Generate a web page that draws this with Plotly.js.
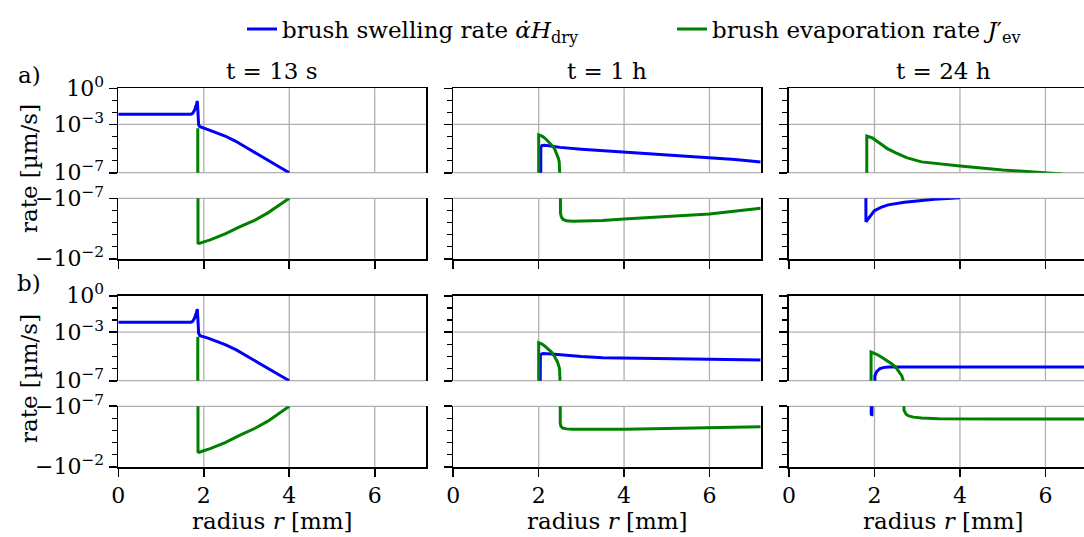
<!DOCTYPE html>
<html><head><meta charset="utf-8">
<script src="https://cdn.plot.ly/plotly-3.0.1.min.js"></script>
<style>html,body{margin:0;padding:0;background:#fff}</style>
</head><body><div id="chart" style="width:1084px;height:537px"></div>
<script>
// ---------------- data (radius in mm, signed rates in µm/s) ----------------
const columnTitles = ['t = 13 s', 't = 1 h', 't = 24 h'];
const rowLetters = ['a)', 'b)'];
const xTickVals = [0, 2, 4, 6];
const xTickText = ['0', '2', '4', '6'];
const posTickVals = [1, 1e-3, 1e-7];
const posTickText = ['10<sup>0</sup>', '10<sup>−3</sup>', '10<sup>−7</sup>'];
const posMinorVals = [1e-1, 1e-2, 1e-4, 1e-5, 1e-6];
const negTickVals = [1e-7, 1e-2];
const negTickText = ['−10<sup>−7</sup>', '−10<sup>−2</sup>'];
const negMinorVals = [1e-6, 1e-5, 1e-4, 1e-3];
const seriesNames = ['brush swelling rate <i>α̇H</i><sub>dry</sub>', 'brush evaporation rate <i>J</i>′<sub>ev</sub>'];
const seriesColors = ['#0000ff', '#008000'];

// row a, t = 13 s
const r_a13_swell = [0, 1.70, 1.74, 1.78, 1.82, 1.85, 1.88, 1.91, 2.10, 2.30, 2.50, 2.75, 3.00, 3.50, 4.00];
const v_a13_swell = [6.9e-3, 6.9e-3, 8.3e-3, 1.4e-2, 3.5e-2, 8.9e-2, 9.0e-4, 6.6e-4, 3.8e-4, 2.1e-4, 1.1e-4, 4.0e-5, 1.2e-5, 1.1e-6, 1.0e-7];
const r_a13_evap = [0, 1.86, 1.86, 1.865, 1.89, 2.15, 2.50, 2.85, 3.20, 3.50, 3.80, 4.00];
const v_a13_evap = [0, 0, 4.8e-4, -5.0e-4, -5.4e-4, -2.8e-4, -8.9e-5, -2.2e-5, -6.3e-6, -1.6e-6, -3.2e-7, -1.0e-7];
// row a, t = 1 h
const r_a1h_swell = [0, 2.04, 2.05, 2.08, 2.15, 2.30, 2.50, 3.00, 4.00, 5.00, 6.00, 6.60, 7.20];
const v_a1h_swell = [0, 0, 1.3e-5, 1.8e-5, 1.9e-5, 1.6e-5, 1.26e-5, 8.9e-6, 5.2e-6, 3.2e-6, 1.9e-6, 1.26e-6, 7.8e-7];
const r_a1h_evap = [0, 2.00, 2.00, 2.08, 2.15, 2.23, 2.30, 2.37, 2.42, 2.46, 2.48, 2.50, 2.51, 2.53, 2.57, 2.65, 2.80, 3.50, 4.00, 5.00, 6.00, 7.20];
const v_a1h_evap = [0, 0, 1.35e-4, 1.07e-4, 7.1e-5, 4.0e-5, 2.0e-5, 1.0e-5, 4.1e-6, 1.6e-6, 8.1e-7, 8.9e-8, -1.6e-6, -3.5e-6, -5.6e-6, -7.1e-6, -7.9e-6, -6.8e-6, -5.1e-6, -3.3e-6, -2.0e-6, -6.8e-7];
// row a, t = 24 h
const r_a24_swell = [0, 1.79, 1.80, 1.90, 2.00, 2.15, 2.32, 2.70, 3.00, 3.40, 3.80, 4.00];
const v_a24_swell = [0, 0, -8.7e-6, -2.8e-6, -1.05e-6, -5.6e-7, -3.5e-7, -2.1e-7, -1.6e-7, -1.2e-7, -1.0e-7, -8.9e-8];
const r_a24_evap = [0, 1.82, 1.82, 1.95, 2.10, 2.30, 2.50, 2.75, 3.10, 3.50, 4.00, 5.00, 6.00, 6.40];
const v_a24_evap = [0, 0, 1.1e-4, 7.6e-5, 3.2e-5, 1.0e-5, 4.5e-6, 1.8e-6, 7.9e-7, 5.4e-7, 3.6e-7, 1.7e-7, 1.0e-7, 7.9e-8];
// row b, t = 13 s
const r_b13_swell = [0, 1.70, 1.74, 1.78, 1.82, 1.85, 1.88, 1.91, 2.10, 2.30, 2.50, 2.75, 3.00, 3.50, 4.00];
const v_b13_swell = [6.5e-3, 6.5e-3, 7.8e-3, 1.3e-2, 3.2e-2, 7.9e-2, 8.0e-4, 5.1e-4, 3.2e-4, 1.8e-4, 9.5e-5, 3.6e-5, 1.1e-5, 1.0e-6, 1.0e-7];
const r_b13_evap = [0, 1.86, 1.86, 1.865, 1.89, 2.15, 2.50, 2.85, 3.20, 3.50, 3.80, 4.00];
const v_b13_evap = [0, 0, 4.2e-4, -5.6e-4, -6.4e-4, -3.2e-4, -1.0e-4, -2.4e-5, -6.6e-6, -1.7e-6, -3.3e-7, -1.0e-7];
// row b, t = 1 h
const r_b1h_swell = [0, 2.00, 2.04, 2.10, 2.30, 2.60, 3.00, 3.50, 4.50, 6.00, 7.20];
const v_b1h_swell = [0, 0, 1.4e-5, 1.7e-5, 1.6e-5, 1.26e-5, 1.0e-5, 7.9e-6, 6.6e-6, 5.8e-6, 5.0e-6];
const r_b1h_evap = [0, 2.00, 2.00, 2.08, 2.15, 2.23, 2.30, 2.37, 2.44, 2.48, 2.49, 2.50, 2.505, 2.52, 2.56, 2.65, 2.80, 4.00, 5.00, 6.00, 7.20];
const v_b1h_evap = [0, 0, 1.35e-4, 1.05e-4, 6.6e-5, 4.0e-5, 2.3e-5, 1.0e-5, 3.5e-6, 1.26e-6, 7.9e-7, 8.9e-8, -2.5e-6, -4.5e-6, -6.3e-6, -7.4e-6, -7.9e-6, -7.9e-6, -6.8e-6, -5.8e-6, -4.9e-6];
// row b, t = 24 h
const r_b24_swell = [0, 1.91, 1.925, 1.94, 1.96, 1.99, 2.01, 2.05, 2.13, 2.20, 2.32, 3.00, 5.00, 7.20];
const v_b24_swell = [0, 0, -5.6e-7, -5.0e-7, 0, 0, 2.5e-7, 5.6e-7, 9.8e-7, 1.2e-6, 1.32e-6, 1.32e-6, 1.32e-6, 1.32e-6];
const r_b24_evap = [0, 1.92, 1.92, 2.05, 2.16, 2.28, 2.40, 2.50, 2.59, 2.64, 2.67, 2.69, 2.74, 2.80, 2.91, 3.10, 3.50, 5.00, 7.20];
const v_b24_evap = [0, 0, 2.3e-5, 1.5e-5, 8.9e-6, 5.0e-6, 2.5e-6, 1.26e-6, 5.1e-7, 2.5e-7, 1.07e-7, -2.1e-7, -4.5e-7, -6.3e-7, -7.9e-7, -9.5e-7, -1.05e-6, -1.1e-6, -1.1e-6];

const panelData = [
  [[r_a13_swell, v_a13_swell, r_a13_evap, v_a13_evap],
   [r_a1h_swell, v_a1h_swell, r_a1h_evap, v_a1h_evap],
   [r_a24_swell, v_a24_swell, r_a24_evap, v_a24_evap]],
  [[r_b13_swell, v_b13_swell, r_b13_evap, v_b13_evap],
   [r_b1h_swell, v_b1h_swell, r_b1h_evap, v_b1h_evap],
   [r_b24_swell, v_b24_swell, r_b24_evap, v_b24_evap]]
];

// ---------------- layout geometry ----------------
const FONT = 'DejaVu Serif';
const W = 1084, H = 537;
const colDomains = [[118.3 / W, 426 / W], [453.3 / W, 760.7 / W], [789 / W, 1.0]];
const colRanges = [[0, 7.2], [0, 7.2], [0, (W - 789) / 42.74]];
const rowDomains = [
  { up: [1 - 172.7 / H, 1 - 88.3 / H], lo: [1 - 258.7 / H, 1 - 198.3 / H] },
  { up: [1 - 380.7 / H, 1 - 295.7 / H], lo: [1 - 466.7 / H, 1 - 406.3 / H] }
];
const posRange = [-7, 0], negRange = [-2, -7];
const FLOOR = 1e-30; // values outside the visible half are pushed off-range
const upperPart = v => v.map(a => (a > 0 ? a : FLOOR));
const lowerPart = v => v.map(a => (a < 0 ? -a : FLOOR));

const txtFont = { family: FONT, size: 23, color: '#000' };
const tickFont = { family: FONT, size: 22, color: '#000' };

const traces = [];
const shapes = [];
const layout = {
  width: W, height: H,
  margin: { l: 0, r: 0, t: 0, b: 0 },
  paper_bgcolor: '#fff', plot_bgcolor: '#fff',
  font: txtFont,
  showlegend: true,
  legend: { orientation: 'h', x: 242 / W, xanchor: 'left', y: 1 - 29 / H, yanchor: 'middle',
            font: txtFont, bgcolor: 'rgba(0,0,0,0)', borderwidth: 0 },
  legend2: { orientation: 'h', x: 672 / W, xanchor: 'left', y: 1 - 29 / H, yanchor: 'middle',
             font: txtFont, bgcolor: 'rgba(0,0,0,0)', borderwidth: 0 },
  annotations: [],
  shapes: shapes,
  hovermode: false
};

const gridColor = '#b0b0b0';
const gridLine = { color: gridColor, width: 1.3 };
const logFrac = (val, range) => (Math.log10(val) - range[0]) / (range[1] - range[0]);

let idx = 0;
for (let r = 0; r < 2; r++) {
  for (let h = 0; h < 2; h++) {
    for (let c = 0; c < 3; c++) {
      idx++;
      const sfx = idx === 1 ? '' : String(idx);
      const xId = 'x' + sfx, yId = 'y' + sfx;
      const isUpper = h === 0;
      const yRange = isUpper ? posRange : negRange;
      const yTicks = isUpper ? posTickVals : negTickVals;
      layout['xaxis' + sfx] = {
        domain: colDomains[c], range: colRanges[c], anchor: yId,
        side: isUpper ? 'top' : 'bottom',
        showline: true, linecolor: '#000', linewidth: 1.8, mirror: false,
        ticks: isUpper ? '' : 'outside', ticklen: 8, tickwidth: 1.6, tickcolor: '#000',
        tickmode: 'array', tickvals: xTickVals, ticktext: xTickText,
        showticklabels: !isUpper && r === 1,
        tickfont: tickFont,
        showgrid: false, zeroline: false, fixedrange: true
      };
      layout['yaxis' + sfx] = {
        domain: isUpper ? rowDomains[r].up : rowDomains[r].lo,
        type: 'log', range: yRange, anchor: xId,
        showline: true, linecolor: '#000', linewidth: 1.8, mirror: c < 2,
        ticks: 'outside', ticklen: 8, tickwidth: 1.6, tickcolor: '#000',
        tickmode: 'array', tickvals: yTicks,
        ticktext: isUpper ? posTickText : negTickText,
        showticklabels: c === 0,
        tickfont: tickFont,
        minor: { tickmode: 'array', tickvals: isUpper ? posMinorVals : negMinorVals,
                 ticks: 'outside', ticklen: 5, tickwidth: 1.4, tickcolor: '#000', showgrid: false },
        showgrid: false, zeroline: false, fixedrange: true
      };
      // grid lines at the major ticks, drawn under the data
      xTickVals.forEach(xv => {
        if (xv <= colRanges[c][0] || xv >= colRanges[c][1]) return;
        shapes.push({ type: 'line', layer: 'below', xref: xId, yref: yId + ' domain',
                      x0: xv, x1: xv, y0: 0, y1: 1, line: gridLine });
      });
      yTicks.forEach(yv => {
        const f = logFrac(yv, yRange);
        if (f > 0.999 && isUpper) return;
        if (f < 0.001 && !isUpper) return;
        shapes.push({ type: 'line', layer: 'below', xref: xId + ' domain', yref: yId + ' domain',
                      x0: 0, x1: 1, y0: f, y1: f, line: gridLine });
      });
      const d = panelData[r][c];
      for (let s = 0; s < 2; s++) {
        const rr = d[2 * s], vv = d[2 * s + 1];
        const first = (r === 0 && h === 0 && c === 0);
        traces.push({
          type: 'scatter', mode: 'lines', x: rr,
          y: isUpper ? upperPart(vv) : lowerPart(vv),
          xaxis: xId, yaxis: yId,
          line: { color: seriesColors[s], width: 3 },
          name: seriesNames[s], showlegend: first,
          legend: s === 0 ? 'legend' : 'legend2',
          hoverinfo: 'skip'
        });
      }
    }
  }
}

// column titles, row letters, axis labels
const colCenters = [272, 607, 943];
columnTitles.forEach((t, c) => layout.annotations.push({
  text: t, xref: 'paper', yref: 'paper', x: colCenters[c] / W, y: 1 - 71 / H,
  xanchor: 'center', yanchor: 'middle', showarrow: false, font: txtFont
}));
const letterY = [75, 283];
rowLetters.forEach((t, r) => layout.annotations.push({
  text: t, xref: 'paper', yref: 'paper', x: 29 / W, y: 1 - letterY[r] / H,
  xanchor: 'center', yanchor: 'middle', showarrow: false, font: txtFont
}));
const ylabY = [169, 379];
ylabY.forEach(py => layout.annotations.push({
  text: 'rate [µm/s]', xref: 'paper', yref: 'paper', x: 29 / W, y: 1 - py / H,
  xanchor: 'center', yanchor: 'middle', textangle: -90, showarrow: false, font: txtFont
}));
colCenters.forEach(cx => layout.annotations.push({
  text: 'radius <i>r</i> [mm]', xref: 'paper', yref: 'paper', x: cx / W, y: 1 - 521 / H,
  xanchor: 'center', yanchor: 'middle', showarrow: false, font: txtFont
}));

Plotly.newPlot('chart', traces, layout, { staticPlot: true, displayModeBar: false });
</script>
</body></html>
